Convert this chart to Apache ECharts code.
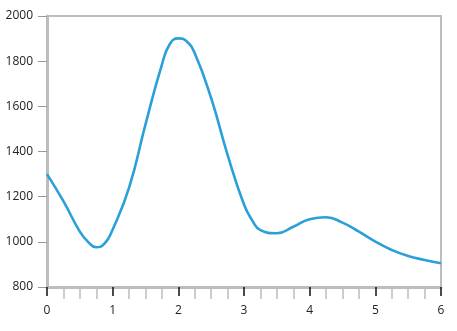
<!DOCTYPE html>
<html>
<head>
<meta charset="utf-8">
<script src="https://cdn.jsdelivr.net/npm/echarts@6/dist/echarts.min.js"></script>
<style>html,body{margin:0;padding:0;background:#fff}#c{width:457px;height:331px}</style>
</head>
<body>
<div id="c"></div>
<script>
const xValues = [0, 0.25, 0.5, 0.625, 0.75, 0.875, 1, 1.25, 1.5, 1.75, 1.875, 2, 2.125, 2.25, 2.5, 2.75, 3, 3.125, 3.25, 3.5, 3.75, 4, 4.25, 4.5, 4.75, 5, 5.25, 5.5, 5.75, 6];
const yValues = [1300, 1180, 1045, 1000, 976, 992, 1055, 1240, 1520, 1785, 1878, 1901, 1888, 1835, 1636, 1385, 1165, 1095, 1052, 1038, 1067, 1100, 1109, 1085, 1045, 1001, 964, 937, 920, 905];
const xTicks = [0, 1, 2, 3, 4, 5, 6];
const yTicks = [800, 1000, 1200, 1400, 1600, 1800, 2000];

const data = xValues.map((x, i) => [x, yValues[i]]);
const font = '"Open Sans", "Noto Sans", sans-serif';
const chart = echarts.init(document.getElementById('c'));
chart.setOption({
  animation: false,
  grid: { left: 47, right: 16, top: 16, bottom: 44, show: true, borderColor: '#bdbdbd', borderWidth: 2, backgroundColor: 'transparent' },
  xAxis: {
    type: 'value', min: xTicks[0], max: xTicks[xTicks.length - 1], interval: 1,
    axisLine: { lineStyle: { color: '#bdbdbd', width: 3 } },
    axisTick: { show: true, length: 9, lineStyle: { color: '#111', width: 1.5 } },
    minorTick: { show: true, splitNumber: 4, length: 12, lineStyle: { color: '#bdbdbd', width: 1.5 } },
    axisLabel: { color: '#222', fontSize: 12, fontFamily: font, margin: 18, formatter: v => String(v) },
    splitLine: { show: false }
  },
  yAxis: {
    type: 'value', min: yTicks[0], max: yTicks[yTicks.length - 1], interval: 200,
    axisLine: { show: true, lineStyle: { color: '#bdbdbd', width: 3 } },
    axisTick: { show: true, length: 9, lineStyle: { color: '#999', width: 1 } },
    axisLabel: { color: '#222', fontSize: 12, fontFamily: font, margin: 14, formatter: v => String(v) },
    splitLine: { show: false }
  },
  series: [{
    type: 'line', data: data, smooth: 0.5, showSymbol: false,
    lineStyle: { color: '#2aa0d8', width: 2.6 }
  }]
});
</script>
</body>
</html>
